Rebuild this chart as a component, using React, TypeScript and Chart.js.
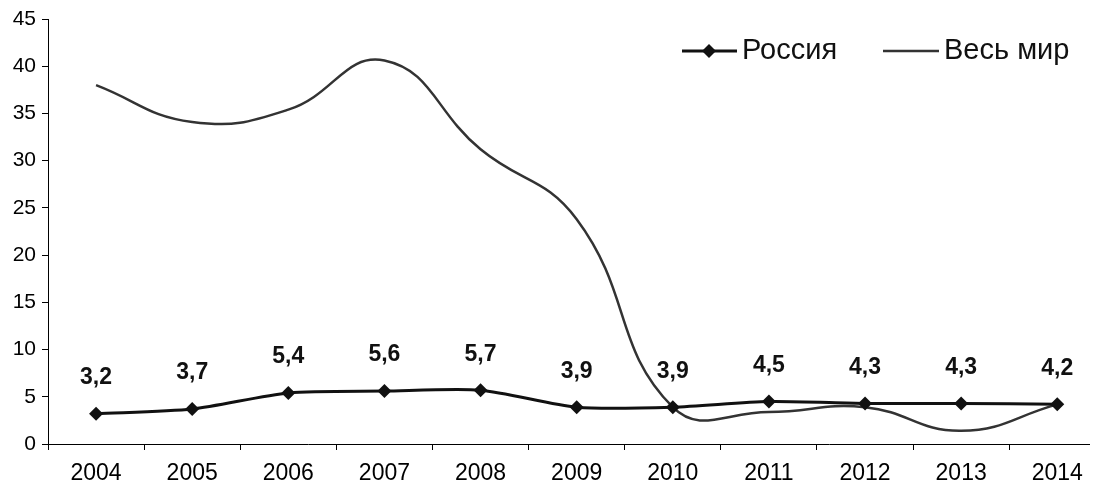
import React, { useEffect, useRef } from "react";
import { Chart, registerables } from "chart.js";

Chart.register(...registerables);

const years = ["2004", "2005", "2006", "2007", "2008", "2009", "2010", "2011", "2012", "2013", "2014"];
const russia = [3.2, 3.7, 5.4, 5.6, 5.7, 3.9, 3.9, 4.5, 4.3, 4.3, 4.2];
const world = [38, 34.1, 35.4, 40.6, 31.2, 23.8, 3.9, 3.4, 3.9, 1.4, 4.2];
const yTicks = [0, 5, 10, 15, 20, 25, 30, 35, 40, 45];

const FONT = "'Liberation Sans', Arial, sans-serif";

const labelPlugin = {
  id: "valueLabels",
  afterDatasetsDraw(chart: any) {
    const ctx = chart.ctx;
    const meta = chart.getDatasetMeta(0);
    ctx.save();
    ctx.font = `bold 23px ${FONT}`;
    ctx.fillStyle = "#111";
    ctx.textAlign = "center";
    ctx.textBaseline = "middle";
    meta.data.forEach((pt: any, i: number) => {
      const v = russia[i];
      ctx.fillText(v.toFixed(1).replace(".", ","), pt.x, pt.y - 36);
    });
    ctx.restore();
  },
};

const legendPlugin = {
  id: "customLegend",
  afterDraw(chart: any) {
    const ctx = chart.ctx;
    const y = 51;
    ctx.save();
    ctx.font = `29px ${FONT}`;
    ctx.textBaseline = "middle";
    ctx.textAlign = "left";
    // Россия
    ctx.strokeStyle = "#111";
    ctx.lineWidth = 3;
    ctx.beginPath();
    ctx.moveTo(682, y);
    ctx.lineTo(737, y);
    ctx.stroke();
    ctx.fillStyle = "#111";
    ctx.beginPath();
    ctx.moveTo(709, y - 7);
    ctx.lineTo(716, y);
    ctx.lineTo(709, y + 7);
    ctx.lineTo(702, y);
    ctx.closePath();
    ctx.fill();
    ctx.fillText(chart.data.datasets[0].label, 742, y);
    // Весь мир
    ctx.strokeStyle = "#333";
    ctx.lineWidth = 2.5;
    ctx.beginPath();
    ctx.moveTo(883, y);
    ctx.lineTo(939, y);
    ctx.stroke();
    ctx.fillText(chart.data.datasets[1].label, 944, y);
    ctx.restore();
  },
};

export default function App() {
  const ref = useRef<HTMLCanvasElement | null>(null);
  useEffect(() => {
    document.body.style.margin = "0";
    document.body.style.overflow = "hidden";
    const canvas = ref.current!;
    const chart = new Chart(canvas, {
      type: "line",
      data: {
        datasets: [
          {
            label: "Россия",
            data: russia.map((v, i) => ({ x: i, y: v })),
            borderColor: "#111",
            backgroundColor: "#111",
            borderWidth: 3,
            pointStyle: "rectRot",
            pointRadius: 7,
            pointBackgroundColor: "#111",
            pointBorderWidth: 0,
            tension: 0.25,
            clip: false as any,
          },
          {
            label: "Весь мир",
            data: world.map((v, i) => ({ x: i, y: v })),
            borderColor: "#333",
            borderWidth: 2.5,
            pointRadius: 0,
            tension: 0.45,
          },
        ],
      },
      options: {
        animation: false,
        responsive: false,
        maintainAspectRatio: false,
        layout: { padding: { top: 19, right: 0, left: 0, bottom: 0 } },
        plugins: { legend: { display: false }, tooltip: { enabled: false } },
        scales: {
          x: {
            type: "linear",
            min: -0.5,
            max: 10.33,
            afterBuildTicks(scale: any) {
              const t: any[] = [];
              for (let i = 0; i < years.length; i++) {
                t.push({ value: i - 0.5 });
                t.push({ value: i });
              }
              scale.ticks = t;
            },
            afterFit(scale: any) {
              scale.height = 45;
            },
            grid: {
              drawOnChartArea: false,
              drawTicks: true,
              tickLength: 6,
              tickColor: (c: any) => (c.tick && c.tick.value % 1 !== 0 ? "#000" : "rgba(0,0,0,0)"),
            },
            border: { color: "#000", width: 1 },
            ticks: {
              autoSkip: false,
              maxRotation: 0,
              padding: 10,
              color: "#000",
              font: { family: FONT, size: 23 },
              callback: (v: any) => (Number(v) % 1 === 0 ? years[Number(v)] : ""),
            },
          },
          y: {
            min: 0,
            max: 45,
            afterBuildTicks(scale: any) {
              scale.ticks = yTicks.map((v) => ({ value: v }));
            },
            afterFit(scale: any) {
              scale.width = 48;
            },
            grid: { drawOnChartArea: false, drawTicks: true, tickLength: 6, tickColor: "#000" },
            border: { color: "#000", width: 1 },
            ticks: {
              padding: 6,
              color: "#000",
              font: { family: FONT, size: 21 },
            },
          },
        },
      },
      plugins: [labelPlugin, legendPlugin],
    });
    return () => chart.destroy();
  }, []);
  return <canvas ref={ref} width={1096} height={489} style={{ display: "block" }} />;
}
